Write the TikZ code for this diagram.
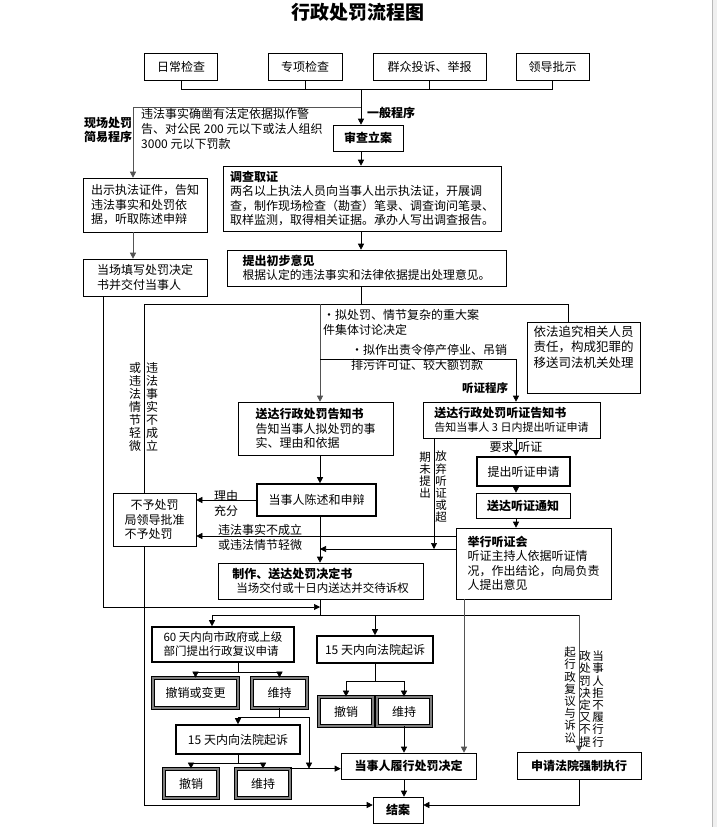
\documentclass[tikz,border=0pt]{standalone}
\usepackage{fontspec}
\setmainfont{Noto Sans CJK SC}
\usetikzlibrary{arrows.meta, calc, positioning}

\begin{document}
\begin{tikzpicture}[x=1pt, y=-1pt,
  box/.style={draw, line width=0.6pt, inner sep=3pt, font=\fontsize{12}{14.5}\selectfont},
  hdbox/.style={box, font=\fontsize{12}{14.5}\selectfont\bfseries},
  thickbox/.style={box, line width=1.6pt},
  dbox/.style={box, draw=black, double=gray!55!black!70, double distance=2pt, line width=0.7pt},
  arr/.style={-{Triangle[length=6pt,width=6pt]}, line width=0.6pt},
  gline/.style={draw=gray!65!black, line width=1.2pt},
  lbl/.style={inner sep=0pt, font=\fontsize{12}{15}\selectfont},
  hdlbl/.style={inner sep=0pt, font=\fontsize{12}{14}\selectfont\bfseries},
  vlbl/.style={inner sep=0pt, align=center, font=\fontsize{11.5}{12.2}\selectfont}]
  \useasboundingbox (0,0) rectangle (717,827);
  \fill[white] (0,0) rectangle (717,827);
  % page edge
  \fill[gray!12] (712,0) rectangle (717,827);
  \draw[gray!55] (712,0) -- (712,827);

  % title
  \node[font=\fontsize{19}{22}\selectfont\bfseries] (title) at (358,12) {行政处罚流程图};

  % sources of cases
  \node[box, minimum width=73, minimum height=27] (rcjc) at (181,66.5) {日常检查};
  \node[box, minimum width=74, minimum height=27] (zxjc) at (305,66.5) {专项检查};
  \node[box, minimum width=113, minimum height=27] (qzts) at (429.5,66.5) {群众投诉、举报};
  \node[box, minimum width=73, minimum height=27] (ldps) at (552.5,66.5) {领导批示};
  \coordinate (bus) at (361,89);
  \draw (rcjc.south) -- (rcjc.south |- bus) -- (ldps.south |- bus) -- (ldps.south);
  \draw (zxjc.south) -- (zxjc.south |- bus);
  \draw (qzts.south) -- (qzts.south |- bus);

  % general procedure
  \node[hdbox, minimum width=70, minimum height=26] (scla) at (368,138) {审查立案};
  \draw[arr] (bus) -- (scla.north -| bus);
  \node[hdlbl] (ybcx) at (391,113) {一般程序};

  % simple procedure on the spot
  \coordinate (jy) at (361,107);
  \coordinate (jyl) at (133,107);
  \node[hdlbl, align=left] (xccf) at (108,130) {现场处罚\\简易程序};
  \node[lbl, align=left, anchor=north west] (jytj) at (141,108) {违法事实确凿有法定依据拟作警\\告、对公民 200 元以下或法人组织\\3000 元以下罚款};
  \node[box, minimum width=124, minimum height=54, align=left] (cszj) at (145,205) {出示执法证件，告知\\违法事实和处罚依\\据，听取陈述申辩};
  \node[box, minimum width=124, minimum height=37, align=left] (dctx) at (145,277.5) {当场填写处罚决定\\书并交付当事人};
  \draw[gline, arr] (jy) -- (jyl) -- (cszj.north -| jyl);
  \draw[gline, arr] (cszj.south -| jyl) -- (dctx.north -| jyl);

  % investigation
  \node[box, minimum width=278, minimum height=65, align=left] (dcqz) at (362,198.5) {\textbf{调查取证}\\两名以上执法人员向当事人出示执法证，开展调\\查，制作现场检查（勘查）笔录、调查询问笔录、\\取样监测，取得相关证据。承办人写出调查报告。};
  \draw[arr] (scla.south -| bus) -- (dcqz.north -| bus);
  \node[box, minimum width=279, minimum height=36, align=left] (tccb) at (366.5,268) {\textbf{提出初步意见}\\{\fontsize{11.8}{13}\selectfont 根据认定的违法事实和法律依据提出处理意见。}};
  \draw[arr] (dcqz.south -| bus) -- (tccb.north -| bus);

  % branching after the first opinion
  \coordinate (fz) at (361,304);
  \coordinate (fzl) at (144,304);
  \coordinate (fzr) at (568,304);
  \coordinate (gx) at (320,304);
  \coordinate (tx) at (516,359);
  \draw (tccb.south -| fz) -- (fz);
  \draw (fzl) -- (fzr);
  \node[box, minimum width=113, minimum height=71] (yfzj) at (583.5,357.5) {};
  \node[lbl, align=left, anchor=north, font=\fontsize{12.5}{15.5}\selectfont] (yfzjt) at ([yshift=-4pt]yfzj.north) {依法追究相关人员\\责任，构成犯罪的\\移送司法机关处理};
  \draw (fzr) -- (yfzj.north -| fzr);
  \node[lbl, align=left, anchor=north west] (jtta) at (323,309) {•拟处罚、情节复杂的重大案\\件集体讨论决定};
  \node[lbl, align=left, anchor=north west] (tzsy) at (351,344) {•拟作出责令停产停业、吊销\\排污许可证、较大额罚款};
  \node[hdlbl, font=\fontsize{11.5}{13}\selectfont\bfseries] (tzcx) at (485,388) {听证程序};

  % notices
  \node[box, minimum width=155, minimum height=53, align=left] (gzs) at (315.5,428.5) {\textbf{送达行政处罚告知书}\\告知当事人拟处罚的事\\实、理由和依据};
  \node[box, minimum width=177, minimum height=36, align=left] (tzgz) at (511.5,420) {\textbf{送达行政处罚听证告知书}\\{\fontsize{11}{13}\selectfont 告知当事人 3 日内提出听证申请}};
  \draw[gline, arr] (gx) -- (gx |- gzs.north);
  \draw[arr] (gx |- tx) -- (tx) -- (tzgz.north -| tx);

  % statement and defence
  \node[thickbox, minimum width=119, minimum height=32] (csdb) at (316.5,500) {当事人陈述和申辩};
  \draw[arr] (gzs.south -| gx) -- (csdb.north -| gx);
  \node[box, minimum width=83, minimum height=53, align=left] (bycf) at (154.5,519.5) {\hspace*{6pt}不予处罚\\局领导批准\\不予处罚};
  \draw[arr] (csdb.west) -- (bycf.east |- csdb.west);
  \node[lbl, align=center] (lycf) at (226,503) {理由\\充分};
  \node[vlbl, font=\fontsize{12}{13}\selectfont] (wfl1) at (152,407) {违\\法\\事\\实\\不\\成\\立};
  \node[vlbl, font=\fontsize{12}{13}\selectfont] (wfl2) at (135,407) {或\\违\\法\\情\\节\\轻\\微};
  \draw (fzl) -- (bycf.north -| fzl);

  % hearing
  \node[thickbox, minimum width=93, minimum height=29] (tcsq) at (523.5,471.5) {提出听证申请};
  \node[hdbox, minimum width=94, minimum height=25] (sdtz) at (523,505.5) {送达听证通知};
  \node[box, minimum width=155, minimum height=71, align=left] (jxtz) at (533.5,563.5) {\textbf{举行听证会}\\听证主持人依据听证情\\况，作出结论，向局负责\\人提出意见};
  \draw[arr] (tzgz.south -| tx) -- (tcsq.north -| tx);
  \node[lbl] (yqtz) at (516,447) {要求\hspace{5pt}听证};
  \draw[arr] (tcsq.south -| tx) -- (sdtz.north -| tx);
  \draw[arr] (sdtz.south -| tx) -- (jxtz.north -| tx);
  \coordinate (fq) at (434,549);
  \draw[arr] (tzgz.south -| fq) -- (fq);
  \node[vlbl] (fqtz) at (441,487) {放\\弃\\听\\证\\或\\超};
  \node[vlbl] (wtc) at (425,475) {期\\未\\提\\出};
  \coordinate (wfb) at (456,536);
  \coordinate (zzb) at (456,549);
  \draw[arr] (wfb) -- (wfb -| bycf.east);
  \draw[arr] (zzb) -- (zzb -| gx);
  \node[lbl, align=center] (wfbc) at (260,537.5) {违法事实不成立\\或违法情节轻微};

  % decision
  \node[box, minimum width=205, minimum height=36, align=left] (zzsd) at (320.5,581) {\textbf{制作、送达处罚决定书}\\{\fontsize{11.5}{13}\selectfont\hspace*{4pt}当场交付或十日内送达并交待诉权}};
  \draw[arr] (csdb.south -| gx) -- (zzsd.north -| gx);
  \coordinate (fy) at (320,615);
  \coordinate (fyl) at (212,615);
  \coordinate (fyr) at (579,615);
  \coordinate (dcb) at (103,607);
  \coordinate (jx) at (464,599);
  \draw[arr] (dctx.south -| dcb) -- (dcb) -- (dcb -| gx);
  \draw (zzsd.south -| gx) -- (fy);
  \draw (fyl) -- (fyr);

  % review and lawsuit
  \node[thickbox, minimum width=142, minimum height=35, align=left, font=\fontsize{11.5}{14}\selectfont] (fy60) at (223,644.5) {60 天内向市政府或上级\\部门提出行政复议申请};
  \node[thickbox, minimum width=116, minimum height=27] (fy15a) at (375,649.5) {15 天内向法院起诉};
  \draw[arr] (fyl) -- (fy60.north -| fyl);
  \draw[arr] (fy15a.north |- fy) -- (fy15a.north);
  \node[dbox, minimum width=85, minimum height=30] (cxbg) at (195.5,693) {撤销或变更};
  \node[dbox, minimum width=55, minimum height=30] (wc1) at (279.5,693) {维持};
  \coordinate (b1) at (238,672);
  \draw (fy60.south -| b1) -- (b1);
  \draw[arr] (b1) -| (cxbg.north);
  \draw[arr] (b1) -| (wc1.north);
  \node[thickbox, minimum width=124, minimum height=29] (fy15b) at (238,739.5) {15 天内向法院起诉};
  \coordinate (b2) at (279.5,717);
  \coordinate (b2r) at (309,717);
  \draw (wc1.south) -- (b2) -- (b2r);
  \draw[arr] (b2) -| (fy15b.north);
  \node[dbox, minimum width=54, minimum height=29] (cx2) at (191,783.5) {撤销};
  \node[dbox, minimum width=54, minimum height=29] (wc3) at (263,783.5) {维持};
  \coordinate (b3) at (238,763);
  \draw (fy15b.south) -- (b3);
  \draw[arr] (b3) -| (cx2.north);
  \draw[arr] (b3) -| (wc3.north);
  \draw[arr] (b2r) -- (b2r |- wc3.north east);
  \node[dbox, minimum width=54, minimum height=29] (cx1) at (346,711.5) {撤销};
  \node[dbox, minimum width=54, minimum height=29] (wc2) at (404,711.5) {维持};
  \coordinate (b4) at (375,681);
  \draw (fy15a.south) -- (b4);
  \draw[arr] (b4) -| (cx1.north);
  \draw[arr] (b4) -| (wc2.north);

  % performance and end
  \node[hdbox, minimum width=135, minimum height=26] (lxcf) at (408.5,766) {当事人履行处罚决定};
  \draw[arr] (wc2.south) -- (wc2.south |- lxcf.north);
  \draw[arr] (wc3.north east) -- (wc3.north east -| lxcf.west);
  \draw[gline, arr] (jx) -- (jx |- lxcf.north);
  \node[hdbox, minimum width=50, minimum height=26] (jiean) at (398,810) {结案};
  \draw[arr] (lxcf.south -| wc2.south) -- (jiean.north -| wc2.south);
  \node[hdbox, minimum width=124, minimum height=27] (qzzx) at (579,765.5) {申请法院强制执行};
  \draw[gline, arr] (fyr) -- (qzzx.north -| fyr);
  \node[vlbl] (vr1) at (598,699) {当\\事\\人\\拒\\不\\履\\行\\行};
  \node[vlbl] (vr2) at (585,699) {政\\处\\罚\\决\\定\\又\\不\\提};
  \node[vlbl] (vr3) at (570,695) {起\\行\\政\\复\\议\\与\\诉\\讼};
  \coordinate (lb) at (144,805);
  \coordinate (rb) at (579,805);
  \draw[arr] (bycf.south -| lb) -- (lb) -- (lb -| jiean.west);
  \draw[arr] (qzzx.south -| rb) -- (rb) -- (rb -| jiean.east);
\end{tikzpicture}
\end{document}
